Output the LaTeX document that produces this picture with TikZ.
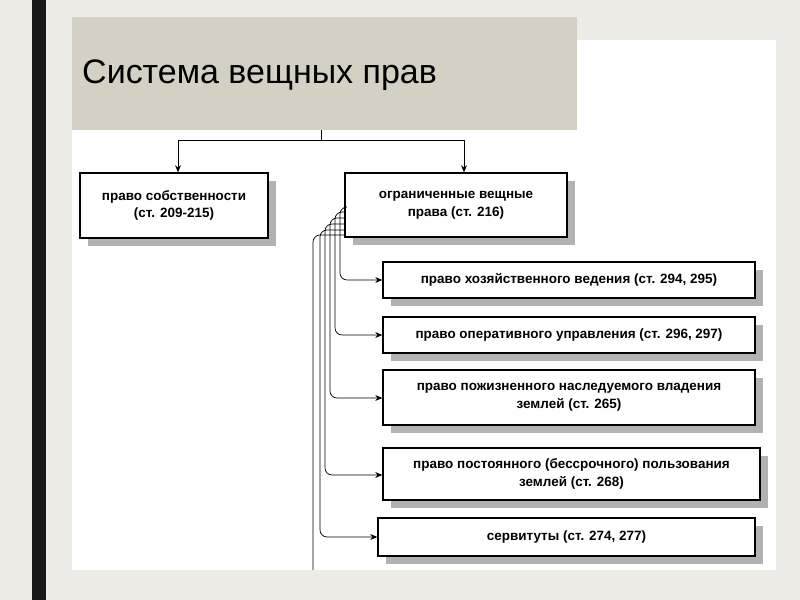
\documentclass[tikz,border=0pt]{standalone}
\usepackage{fontspec}
\setmainfont{Liberation Sans}
\usetikzlibrary{arrows.meta}
\definecolor{bgc}{HTML}{EEECE6}
\definecolor{titc}{HTML}{D4D0C4}
\tikzset{
 bx/.style={draw,line width=1.2pt,fill=white,inner sep=0pt,align=center,font=\fontsize{11.5}{15}\selectfont\bfseries},
 shd/.style={fill=black!30,draw=none},
 ar/.style={-{Stealth[length=6pt,width=5pt]},line width=0.6pt},
 ln/.style={line width=0.6pt,rounded corners=6pt}
}
\begin{document}
\begin{tikzpicture}[x=0.03cm,y=-0.03cm]
\fill[bgc] (0,0) rectangle (800,600);
\fill[black!90] (32,0) rectangle (46,600);
\fill[white] (72,40) rectangle (776,570);
\fill[titc] (72,17) rectangle (577,130);
\node[anchor=west,font=\fontsize{29}{32}\selectfont,inner sep=0pt] (t) at (82,75) {Система вещных прав};
% shadows
\foreach \a/\b/\c/\d in {80/173/268/238,345/173/567/237,383/262/755/298,383/317/755/353,383/370/755/425,383/448/760/500,378/518/755/556}
  \fill[shd] (\a+8,\b+8) rectangle (\c+8,\d+8);
\node[bx,minimum width=188*0.03cm,minimum height=65*0.03cm] (b1) at (174,205.5) {право собственности\\(ст. 209-215)};
\node[bx,minimum width=222*0.03cm,minimum height=64*0.03cm] (b2) at (456,205) {ограниченные вещные\\права (ст. 216)};
\node[bx,minimum width=372*0.03cm,minimum height=36*0.03cm] (b3) at (569,280) {право хозяйственного ведения (ст. 294, 295)};
\node[bx,minimum width=372*0.03cm,minimum height=36*0.03cm] (b4) at (569,335) {право оперативного управления (ст. 296, 297)};
\node[bx,minimum width=372*0.03cm,minimum height=55*0.03cm] (b5) at (569,397.5) {право пожизненного наследуемого владения\\землей (ст. 265)};
\node[bx,minimum width=377*0.03cm,minimum height=52*0.03cm] (b6) at (571.5,474) {право постоянного (бессрочного) пользования\\землей (ст. 268)};
\node[bx,minimum width=377*0.03cm,minimum height=38*0.03cm] (b7) at (566.5,537) {сервитуты (ст. 274, 277)};
% bracket
\coordinate (c0) at (321,130);
\coordinate (cl) at (178,140);
\coordinate (cr) at (464,140);
\draw[line width=0.6pt] (c0) -- (321,140);
\draw[ar] (321,140) -- (cl) -- (b1.north -| cl);
\draw[ar] (321,140) -- (cr) -- (b2.north -| cr);
% feeder lines
\draw[ar,ln] (b2.west |- 0,207) -- (340,207) -- (340,280) -- (b3.west);
\draw[ar,ln] (b2.west |- 0,212) -- (335,212) -- (335,335) -- (b4.west);
\draw[ar,ln] (b2.west |- 0,218) -- (330,218) -- (330,398) -- (b5.west |- 0,398);
\draw[ar,ln] (b2.west |- 0,224) -- (325,224) -- (325,475) -- (b6.west |- 0,475);
\draw[ar,ln] (b2.west |- 0,230) -- (320,230) -- (320,537) -- (b7.west);
\coordinate (end) at (313,570);
\draw[ln] (b2.west |- 0,235) -- (313,235) -- (end);
\end{tikzpicture}
\end{document}
